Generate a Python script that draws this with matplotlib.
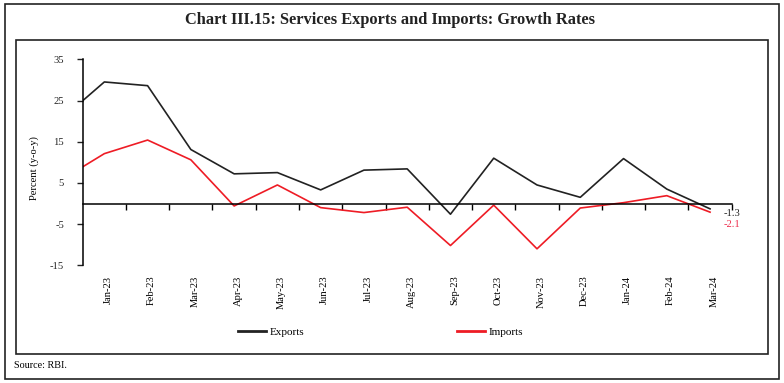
import matplotlib.pyplot as plt
from matplotlib.patches import Rectangle
import matplotlib.transforms as mtransforms

# Data (y-o-y growth, per cent).
# The Dec-22 point sits half a category left of the axis and is clipped, as in the original.
months = ["Dec-22", "Jan-23", "Feb-23", "Mar-23", "Apr-23", "May-23", "Jun-23", "Jul-23",
          "Aug-23", "Sep-23", "Oct-23", "Nov-23", "Dec-23", "Jan-24", "Feb-24", "Mar-24"]
exports = [20.4, 29.5, 28.6, 13.1, 7.2, 7.5, 3.3, 8.1, 8.4, -2.6, 11.0, 4.5, 1.5, 10.9, 3.5, -1.3]
imports = [5.7, 12.1, 15.4, 10.6, -0.6, 4.5, -1.0, -2.2, -0.9, -10.2, -0.4, -11.0, -1.1, 0.2, 1.9, -2.1]
y_ticks = [-15, -5, 5, 15, 25, 35]

plt.rcParams['font.family'] = ['Liberation Serif', 'DejaVu Serif']
plt.rcParams['axes.unicode_minus'] = False

fig = plt.figure(figsize=(7.84, 3.83), dpi=100)
W, H = 784, 383
FS = 7.6

# outer and inner frames
fig.patches.append(Rectangle((5 / W, 1 - 379 / H), 774 / W, 375 / H, transform=fig.transFigure,
                             fill=False, lw=1.2, ec='#222222'))
fig.patches.append(Rectangle((15.5 / W, 1 - 354 / H), 752.5 / W, 314 / H, transform=fig.transFigure,
                             fill=False, lw=1.2, ec='#222222'))

fig.text(390 / W, 1 - 20 / H, "Chart III.15: Services Exports and Imports: Growth Rates",
         ha='center', va='center', fontsize=11.8, fontweight='bold', color='#222222')
fig.text(14 / W, 1 - 366 / H, "Source: RBI.", ha='left', va='center', fontsize=7.3)

# axes area: x from 82.7 to 731.7 px, y from 59.3 to 265.3 px
ax = fig.add_axes([82.7 / W, 1 - 265.3 / H, (731.7 - 82.7) / W, (265.3 - 59.3) / H])

x = [i - 1 for i in range(len(months))]
ax.plot(x, exports, color='#222222', lw=1.2, label='Exports')
ax.plot(x, imports, color='#ee1c25', lw=1.2, label='Imports')

ax.set_xlim(-0.5, x[-1] + 0.5)
ax.set_ylim(-15, 35)
ax.set_yticks(y_ticks)
ax.tick_params(axis='y', direction='out', length=4.5, width=1.0, labelsize=FS, pad=9, colors='#222222')

for s in ['top', 'right']:
    ax.spines[s].set_visible(False)
ax.spines['bottom'].set_position(('data', 0))
ax.spines['left'].set_linewidth(1.1)
ax.spines['bottom'].set_linewidth(1.1)

# tick marks at category boundaries, labels under each month
ax.set_xticks([i + 0.5 for i in x[1:]])
ax.set_xticklabels([])
ax.tick_params(axis='x', direction='out', length=4.5, width=1.0)

trans = mtransforms.blended_transform_factory(ax.transData, ax.transAxes)
for i in range(1, len(months)):
    ax.text(x[i] + 0.09, -0.05, months[i], rotation=90, ha='center', va='top',
            fontsize=FS, transform=trans)

ax.set_ylabel("Percent (y-o-y)", fontsize=FS)
ax.yaxis.set_label_coords(-0.067, 0.47)

# end labels
ax.annotate(f"{exports[-1]:.1f}", (x[-1], exports[-1]), xytext=(9.5, -3), textcoords='offset points',
            fontsize=FS, color='#222222', va='center', ha='left')
ax.annotate(f"{imports[-1]:.1f}", (x[-1], imports[-1]), xytext=(9.5, -9), textcoords='offset points',
            fontsize=FS, color='#ee2a4a', va='center', ha='left')

leg = fig.legend(loc='center', bbox_to_anchor=(380.5 / W, 1 - 332.5 / H), ncol=2, frameon=False,
                 fontsize=8, handlelength=2.5, handletextpad=0.3, columnspacing=13.8)
for h in leg.get_lines():
    h.set_linewidth(2)

fig.savefig('out.png', dpi=100)
